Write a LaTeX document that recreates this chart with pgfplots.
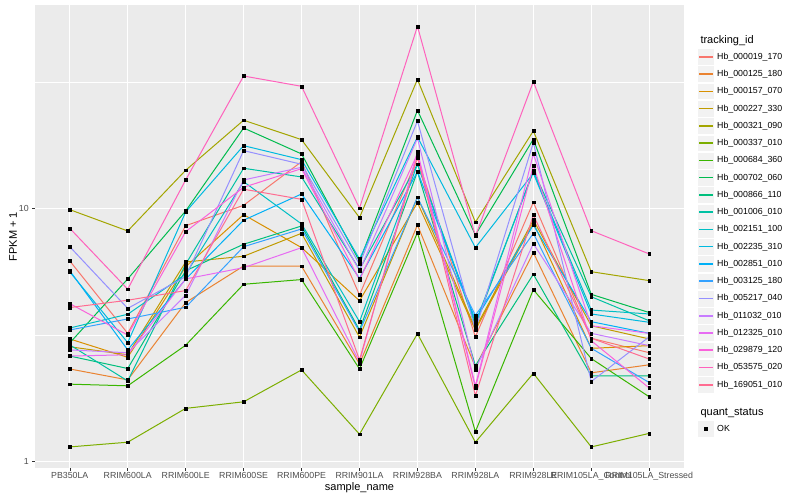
\documentclass[border=0pt]{standalone}
\usepackage{pgfplots}
\usepackage{pgfplotstable}
\pgfplotsset{compat=1.18}
\usepackage{fontspec}
\setmainfont{Liberation Sans}
\definecolor{c1}{HTML}{F8766D}
\definecolor{c2}{HTML}{EA8331}
\definecolor{c3}{HTML}{D89000}
\definecolor{c4}{HTML}{C09B00}
\definecolor{c5}{HTML}{A3A500}
\definecolor{c6}{HTML}{7CAE00}
\definecolor{c7}{HTML}{39B600}
\definecolor{c8}{HTML}{00BB4E}
\definecolor{c9}{HTML}{00BF7D}
\definecolor{c10}{HTML}{00C1A3}
\definecolor{c11}{HTML}{00BFC4}
\definecolor{c12}{HTML}{00BAE0}
\definecolor{c13}{HTML}{00B0F6}
\definecolor{c14}{HTML}{35A2FF}
\definecolor{c15}{HTML}{9590FF}
\definecolor{c16}{HTML}{C77CFF}
\definecolor{c17}{HTML}{E76BF3}
\definecolor{c18}{HTML}{FA62DB}
\definecolor{c19}{HTML}{FF62BC}
\definecolor{c20}{HTML}{FF6C91}
\definecolor{ggpanel}{HTML}{EBEBEB}
\definecolor{ggkey}{HTML}{F2F2F2}
\definecolor{grey30}{HTML}{4D4D4D}
\definecolor{grey20}{HTML}{333333}

\pgfplotstableread{
x s1 s2 s3 s4 s5 s6 s7 s8 s9 s10 s11 s12 s13 s14 s15 s16 s17 s18 s19 s20
0 6.21 2.32 3.05 2.84 9.91 1.14 2.02 2.94 2.61 2.89 3.37 5.62 5.68 3.31 7.07 2.76 2.61 4.21 8.36 4.06
1 3.21 2.10 2.58 2.64 8.16 1.19 1.99 5.27 2.33 2.08 3.82 2.95 2.76 3.66 4.03 2.69 2.64 3.16 4.80 4.34
2 8.56 4.25 5.89 6.15 14.19 1.62 2.88 9.79 5.68 6.03 5.50 9.70 5.26 4.07 5.38 4.54 5.27 8.11 12.99 4.74
3 10.31 5.93 9.47 6.48 22.39 1.72 5.02 20.86 7.23 14.45 12.79 17.76 9.00 7.07 16.97 12.99 5.84 12.15 33.5 11.94
4 15.35 5.92 7.01 7.99 18.76 2.30 5.24 16.47 8.54 13.35 8.70 15.63 11.43 8.31 14.99 14.58 7.01 14.40 30.5 10.89
5 4.55 2.43 4.32 3.10 9.21 1.28 2.32 6.19 3.31 5.75 3.57 6.32 5.30 3.26 6.03 5.68 2.47 5.22 10.04 2.52
6 15.83 8.62 10.56 11.10 32.5 3.20 8.04 24.5 14.01 14.99 14.99 19.22 14.01 11.10 22.25 19.0 16.82 16.47 52.7 16.07
7 3.11 2.36 3.31 3.36 8.84 1.19 1.31 7.87 2.39 3.46 3.54 7.01 3.63 3.78 3.31 2.31 1.99 1.96 7.78 1.82
8 10.60 6.70 8.80 9.02 20.31 2.23 4.78 18.83 5.50 14.14 13.97 13.81 8.62 7.99 18.25 7.27 16.47 14.80 31.82 9.44
9 3.07 2.24 2.80 3.44 5.63 1.14 2.55 4.58 2.18 4.48 3.97 3.83 3.57 2.80 2.07 3.21 3.44 3.00 8.18 3.07
10 2.69 2.41 2.87 3.05 5.19 1.29 1.80 3.88 2.18 3.60 3.83 3.55 3.21 2.05 3.11 2.87 3.21 1.95 6.62 2.54
}\datatable

\pgfplotsset{
  ggline/.style={draw=#1, color=#1, line width=1.0pt, mark=none},
  ggmark/.style={forget plot, only marks, mark=square*, mark size=1.4pt, mark options={draw=black, fill=black}},
}

\begin{document}
\begin{tikzpicture}[x=1pt,y=1pt]
\path[use as bounding box] (0,0) rectangle (800,500);
\begin{axis}[
  at={(35pt,32pt)}, anchor=south west, scale only axis,
  width=649pt, height=463pt,
  clip mode=individual,
  xmin=-0.6, xmax=10.6,
  ymode=log, ymin=0.9408, ymax=64.0,
  xtick={0,...,10},
  xticklabels={PB350LA,RRIM600LA,RRIM600LE,RRIM600SE,RRIM600PE,RRIM901LA,RRIM928BA,RRIM928LA,RRIM928LE,RRIM105LA\_Control,RRIM105LA\_Stressed},
  ytick={1,10}, yticklabels={1,10},
  minor ytick={3.16228,31.6228},
  grid=both,
  major grid style={white, line width=1.0pt},
  minor grid style={white, line width=0.5pt},
  axis background/.style={fill=ggpanel},
  axis line style={draw=none},
  tick pos=left, tick align=outside,
  major tick length=2.75pt, minor tick length=0pt,
  tick style={grey20, line width=0.5pt},
  ticklabel style={font=\fontsize{8.8}{10}\selectfont, text=grey30},
  xticklabel style={yshift=2pt},
  /pgf/number format/assume math mode=true,
  xlabel={sample\_name}, ylabel={FPKM + 1},
  label style={font=\fontsize{11}{13}\selectfont},
  xlabel style={at={(axis description cs:0.5,-0.0432)}, anchor=center},
  ylabel style={at={(axis description cs:-0.0339,0.5)}, anchor=center},
  legend cell align=left,
  legend style={at={(axis description cs:1.0200,0.9071)}, anchor=north west,
    draw=none, fill=none, inner sep=0pt, row sep=0pt, column sep=0pt,
    font=\fontsize{8.8}{10}\selectfont,
    nodes={inner xsep=2.75pt, inner ysep=0pt}},
  legend image code/.code={%
    \filldraw[fill=ggkey, draw=white, line width=0.5pt] (0pt,-8.38pt) rectangle (16.76pt,8.38pt);
    \draw[#1, line width=1.6pt] (1.7pt,0pt) -- (15.1pt,0pt);},
]
\addplot[ggline=c1] table[x=x, y=s1] {\datatable}; \addlegendentry{Hb\_000019\_170}
\addplot[ggline=c2] table[x=x, y=s2] {\datatable}; \addlegendentry{Hb\_000125\_180}
\addplot[ggline=c3] table[x=x, y=s3] {\datatable}; \addlegendentry{Hb\_000157\_070}
\addplot[ggline=c4] table[x=x, y=s4] {\datatable}; \addlegendentry{Hb\_000227\_330}
\addplot[ggline=c5] table[x=x, y=s5] {\datatable}; \addlegendentry{Hb\_000321\_090}
\addplot[ggline=c6] table[x=x, y=s6] {\datatable}; \addlegendentry{Hb\_000337\_010}
\addplot[ggline=c7] table[x=x, y=s7] {\datatable}; \addlegendentry{Hb\_000684\_360}
\addplot[ggline=c8] table[x=x, y=s8] {\datatable}; \addlegendentry{Hb\_000702\_060}
\addplot[ggline=c9] table[x=x, y=s9] {\datatable}; \addlegendentry{Hb\_000866\_110}
\addplot[ggline=c10] table[x=x, y=s10] {\datatable}; \addlegendentry{Hb\_001006\_010}
\addplot[ggline=c11] table[x=x, y=s11] {\datatable}; \addlegendentry{Hb\_002151\_100}
\addplot[ggline=c12] table[x=x, y=s12] {\datatable}; \addlegendentry{Hb\_002235\_310}
\addplot[ggline=c13] table[x=x, y=s13] {\datatable}; \addlegendentry{Hb\_002851\_010}
\addplot[ggline=c14] table[x=x, y=s14] {\datatable}; \addlegendentry{Hb\_003125\_180}
\addplot[ggline=c15] table[x=x, y=s15] {\datatable}; \addlegendentry{Hb\_005217\_040}
\addplot[ggline=c16] table[x=x, y=s16] {\datatable}; \addlegendentry{Hb\_011032\_010}
\addplot[ggline=c17] table[x=x, y=s17] {\datatable}; \addlegendentry{Hb\_012325\_010}
\addplot[ggline=c18] table[x=x, y=s18] {\datatable}; \addlegendentry{Hb\_029879\_120}
\addplot[ggline=c19] table[x=x, y=s19] {\datatable}; \addlegendentry{Hb\_053575\_020}
\addplot[ggline=c20] table[x=x, y=s20] {\datatable}; \addlegendentry{Hb\_169051\_010}
\addplot[ggmark] table[x=x, y=s1] {\datatable};
\addplot[ggmark] table[x=x, y=s2] {\datatable};
\addplot[ggmark] table[x=x, y=s3] {\datatable};
\addplot[ggmark] table[x=x, y=s4] {\datatable};
\addplot[ggmark] table[x=x, y=s5] {\datatable};
\addplot[ggmark] table[x=x, y=s6] {\datatable};
\addplot[ggmark] table[x=x, y=s7] {\datatable};
\addplot[ggmark] table[x=x, y=s8] {\datatable};
\addplot[ggmark] table[x=x, y=s9] {\datatable};
\addplot[ggmark] table[x=x, y=s10] {\datatable};
\addplot[ggmark] table[x=x, y=s11] {\datatable};
\addplot[ggmark] table[x=x, y=s12] {\datatable};
\addplot[ggmark] table[x=x, y=s13] {\datatable};
\addplot[ggmark] table[x=x, y=s14] {\datatable};
\addplot[ggmark] table[x=x, y=s15] {\datatable};
\addplot[ggmark] table[x=x, y=s16] {\datatable};
\addplot[ggmark] table[x=x, y=s17] {\datatable};
\addplot[ggmark] table[x=x, y=s18] {\datatable};
\addplot[ggmark] table[x=x, y=s19] {\datatable};
\addplot[ggmark] table[x=x, y=s20] {\datatable};
\node[anchor=base west, font=\fontsize{11}{13}\selectfont] at (axis description cs:1.0200,0.9158) {tracking\_id};
\node[anchor=base west, font=\fontsize{11}{13}\selectfont] at (axis description cs:1.0200,0.1144) {quant\_status};
\end{axis}
\begin{axis}[
  at={(35pt,32pt)}, anchor=south west, scale only axis,
  width=649pt, height=463pt, hide axis,
  xmin=0, xmax=1, ymin=0, ymax=1,
  legend cell align=left,
  legend style={at={(axis description cs:1.0200,0.1037)}, anchor=north west,
    draw=none, fill=none, inner sep=0pt, row sep=0pt, column sep=0pt,
    font=\fontsize{8.8}{10}\selectfont,
    nodes={inner xsep=2.75pt, inner ysep=0pt}},
  legend image code/.code={%
    \filldraw[fill=ggkey, draw=white, line width=0.5pt] (0pt,-8.38pt) rectangle (16.76pt,8.38pt);
    \draw[#1] plot coordinates {(8.38pt,0pt)};},
]
\addlegendimage{only marks, mark=square*, mark size=1.4pt, black}
\addlegendentry{OK}
\end{axis}
\end{tikzpicture}
\end{document}
